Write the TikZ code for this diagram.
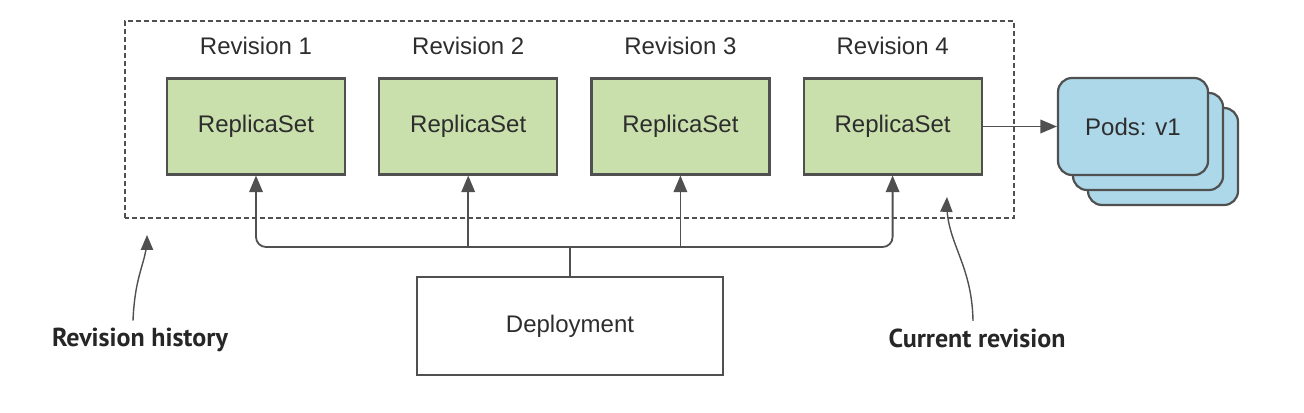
\documentclass[tikz,border=0pt]{standalone}
\usepackage{fontspec}
\setmainfont{Liberation Sans}
\newfontfamily\notefont{PT Sans}
\usepackage{tikz}
\usetikzlibrary{arrows}
\usetikzlibrary{positioning}

\definecolor{rsgreen}{RGB}{201,223,172}
\definecolor{podblue}{RGB}{173,216,234}
\definecolor{edgegray}{RGB}{80,80,80}
\definecolor{textgray}{RGB}{45,45,45}

\begin{document}
\begin{tikzpicture}[->,>=triangle 45,x=0.5pt,y=0.5pt,node distance=16pt,
                    line width=0.9pt,draw=edgegray,text=textgray,
                    rs node/.style={rectangle,draw=edgegray,fill=rsgreen,line width=1.1pt,
                                    minimum width=89pt,minimum height=48pt,font=\fontsize{12}{14}\selectfont},
                    rev label/.style={font=\fontsize{12}{14}\selectfont},
                    pod node/.style={rectangle,rounded corners=7pt,draw=edgegray,fill=podblue,line width=1.1pt,
                                     minimum width=75pt,minimum height=48.5pt,font=\fontsize{12}{14}\selectfont},
                    note/.style={font=\notefont\bfseries\fontsize{13}{15}\selectfont,text=black!85}]

  \useasboundingbox (0,0) rectangle (1304,412);

  % revision history box
  \draw[-,edgegray,line width=0.8pt,dash pattern=on 2.5pt off 1.5pt] (125,194) rectangle (1014,391);

  \node[rs node] (R1) at (256,285.5) {ReplicaSet};
  \node[rs node] (R2) [right=of R1] {ReplicaSet};
  \node[rs node] (R3) [right=of R2] {ReplicaSet};
  \node[rs node] (R4) [right=of R3] {ReplicaSet};

  \foreach \n in {1,2,3,4}
    \node[rev label] (L\n) [above=7.5pt of R\n] {Revision \n};

  % pods, back to front
  \node[pod node] (P3) at (1163,255.5) {};
  \node[pod node] (P2) at (1148,270.5) {};
  \node[pod node] (P1) at (1133,285.5) {Pods: v1};

  \node[rectangle,draw=edgegray,line width=1.1pt,minimum width=153pt,minimum height=49pt,
        font=\fontsize{12}{14}\selectfont] (D) at (570,86) {Deployment};

  \node[note] (H) at (140,72) {Revision history};
  \node[note] (C) at (977,74) {Current revision};

  \coordinate (B) at (570,165);

  \draw[-,edgegray] (D.north) -- (B);
  \draw[edgegray,rounded corners=5pt] (B) -| (R1.south);
  \draw[edgegray,rounded corners=5pt] (B) -| (R4.south);
  \draw[edgegray] (R2.south |- B) -- (R2.south);
  \draw[edgegray] (R3.south |- B) -- (R3.south);
  \draw[edgegray] (R4.east) -- (P1.west);

  \draw[edgegray,line width=0.7pt] (H.north -| 133,0) .. controls (135,140) and (147,150) .. (147,177);
  \draw[edgegray,line width=0.7pt] (C.north -| 973,0) .. controls (972,150) and (945,170) .. (947,215);
\end{tikzpicture}
\end{document}
